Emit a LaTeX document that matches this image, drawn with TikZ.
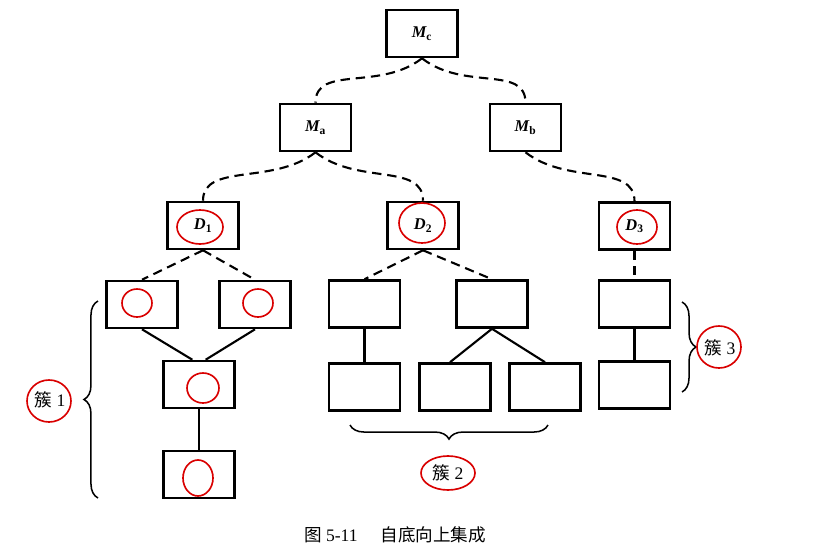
\documentclass[tikz,border=0pt]{standalone}
\usepackage{fontspec}
\setmainfont{Liberation Serif}
\newfontfamily\cjk{Noto Sans CJK SC}
\usetikzlibrary{decorations.pathreplacing}

\begin{document}
\begin{tikzpicture}[x=0.03cm,y=-0.03cm,
	box node/.style={rectangle,draw,line width=2.2pt,minimum width=2.12cm,minimum height=1.41cm,
		font=\fontsize{14}{16}\selectfont\bfseries\itshape},
	dash link/.style={line width=1.8pt,dash pattern=on 8pt off 5pt},
	solid link/.style={line width=1.8pt},
	cluster brace/.style={decorate,decoration={brace,amplitude=12pt},line width=1.3pt},
	cluster label/.style={font=\fontsize{15}{17}\selectfont},
	pen/.style={red!85!black,line width=1.4pt}]
	
	\useasboundingbox (0,0) rectangle (829,551);
	
	\node[box node] (mc) at (422,33.5) {M\textsubscript{\upshape c}};
	\node[box node] (ma) at (315.5,127.5) {M\textsubscript{\upshape a}};
	\node[box node] (mb) at (525.5,127.5) {M\textsubscript{\upshape b}};
	\node[box node] (d1) at (203,225.5) {D\textsubscript{\upshape 1}};
	\node[box node] (d2) at (423,225.5) {D\textsubscript{\upshape 2}};
	\node[box node] (d3) at (634.5,226) {D\textsubscript{\upshape 3}};
	
	\node[box node] (a1) at (142,304.5) {};
	\node[box node] (a2) at (255,304.5) {};
	\node[box node] (a3) at (199,384.5) {};
	\node[box node] (a4) at (199,474.5) {};
	
	\node[box node] (b1) at (364.5,304) {};
	\node[box node] (b2) at (492,304) {};
	\node[box node] (b3) at (364.5,387) {};
	\node[box node] (b4) at (455,387) {};
	\node[box node] (b5) at (545,387) {};
	
	\node[box node] (c1) at (634.5,304) {};
	\node[box node] (c2) at (634.5,385) {};
	
	% dashed links
	\draw[dash link] (mc.south) .. controls +(-42,33) and +(0,-38) .. (ma.north);
	\draw[dash link] (mc.south) .. controls +(42,33) and +(0,-38) .. (mb.north);
	\draw[dash link] (ma.south) .. controls +(-42,33) and +(0,-38) .. (d1.north);
	\draw[dash link] (ma.south) .. controls +(42,33) and +(0,-38) .. (d2.north);
	\draw[dash link] (mb.south) .. controls +(42,33) and +(0,-38) .. (d3.north);
	\draw[dash link] (d1.south) -- (a1.north);
	\draw[dash link] (d1.south) -- (a2.north);
	\draw[dash link] (d2.south) -- (b1.north);
	\draw[dash link] (d2.south) -- (b2.north);
	\draw[dash link] (d3.south) -- (c1.north);
	
	\draw[solid link] (a1.south) -- ([xshift=-0.2cm]a3.north);
	\draw[solid link] (a2.south) -- ([xshift=0.2cm]a3.north);
	\draw[solid link] (a3.south) -- (a4.north);
	\draw[solid link] (b1.south) -- (b3.north);
	\draw[solid link] (b2.south) -- ([xshift=-0.15cm]b4.north);
	\draw[solid link] (b2.south) -- (b5.north);
	\draw[solid link] (c1.south) -- (c2.north);
	
	% clusters
	\draw[cluster brace] (98,498) -- (98,301);
	\draw[cluster brace] (548,425) -- (350,425);
	\draw[cluster brace] (682,302) -- (682,392);
	\node[cluster label] (k1) at (50,400) {{\cjk 簇} 1};
	\node[cluster label] (k2) at (448,473) {{\cjk 簇} 2};
	\node[cluster label] (k3) at (720,348) {{\cjk 簇} 3};
	
	\node[font=\fontsize{15}{17}\selectfont] (cap) at (395,535) {{\cjk 图} 5-11\hspace{1.3em}{\cjk 自底向上集成}};
	
	% red pen marks
	\draw[pen] (200,227) ellipse [x radius=23, y radius=17];
	\draw[pen] (422,223) ellipse [x radius=23, y radius=20];
	\draw[pen] (637,227) ellipse [x radius=20, y radius=17];
	\draw[pen] (137,303) ellipse [x radius=15, y radius=14];
	\draw[pen] (258,303) ellipse [x radius=15, y radius=14];
	\draw[pen] (203,388) ellipse [x radius=16, y radius=15];
	\draw[pen] (198,478) ellipse [x radius=15, y radius=18];
	\draw[pen] (49,401) ellipse [x radius=22, y radius=21];
	\draw[pen] (448,473) ellipse [x radius=27, y radius=17];
	\draw[pen] (719,347) ellipse [x radius=22, y radius=21];
\end{tikzpicture}
\end{document}
